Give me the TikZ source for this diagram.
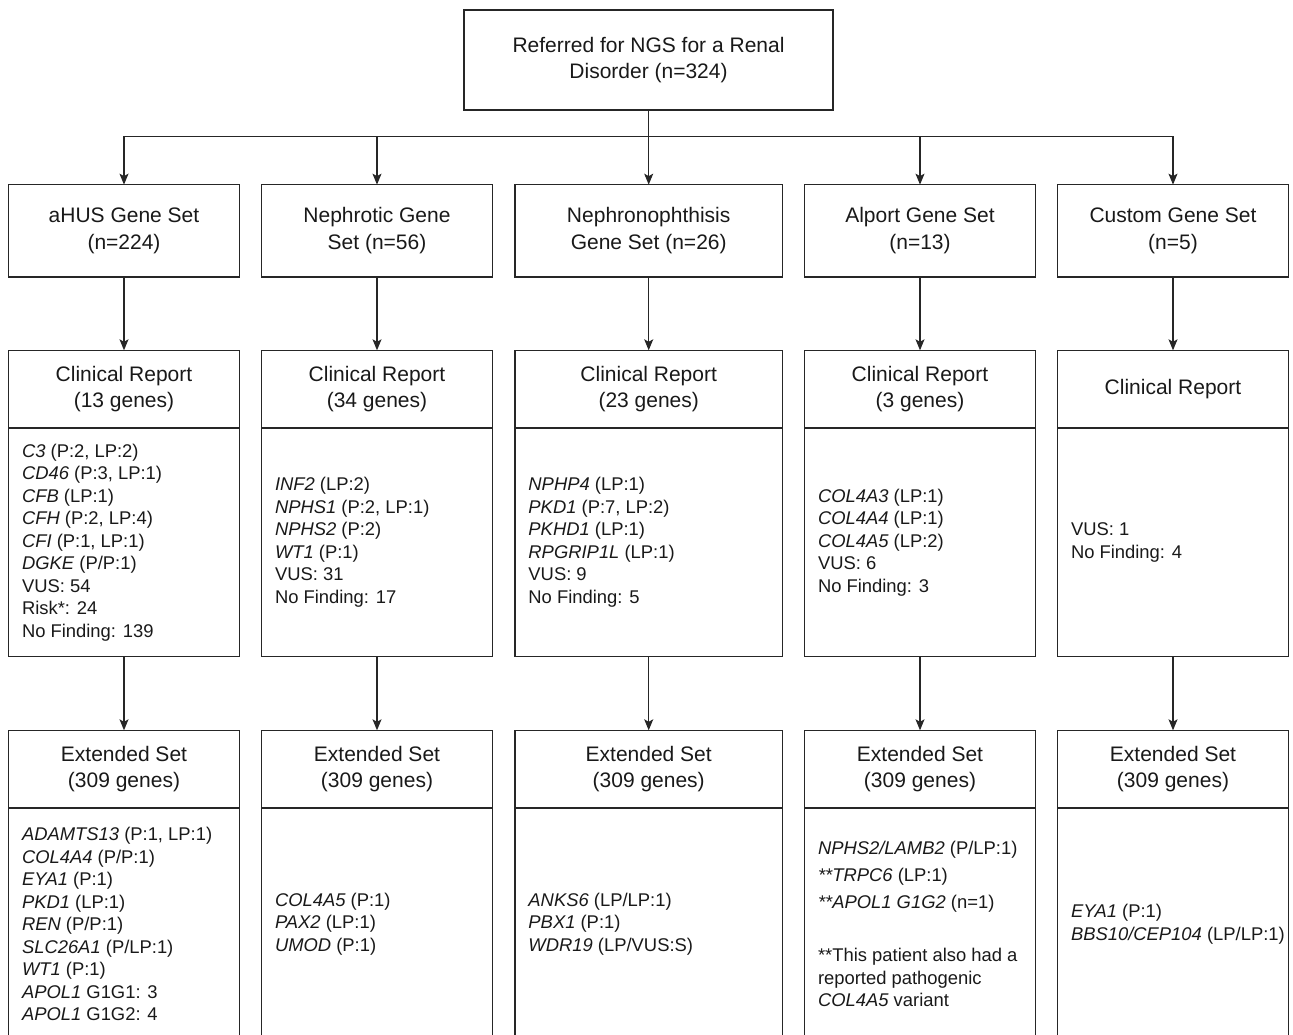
\documentclass[tikz,border=0pt]{standalone}
\usepackage{fontspec}
\setmainfont{Liberation Sans}
\usetikzlibrary{arrows.meta, positioning}
\newcommand{\gene}[1]{\textit{#1}}
\tikzset{
	flowchart/.is family,
	flowchart/.cd,
	box/.style = {
		draw = black!85,
		text = black!90,
		rectangle,
		line width = 1.1pt,
		inner sep = 0pt,
		outer sep = 0pt,
		align = center,
		font = \fontsize{21}{26.5}\selectfont,
	},
	list/.style = {
		text = black!90,
		inner sep = 0pt,
		outer sep = 0pt,
		anchor = west,
		align = left,
		font = \fontsize{18.4}{22.5}\selectfont,
	},
	line/.style = {
		draw = black!85,
		line width = 1.1pt,
	},
	arrow/.style = {
		draw = black!85,
		line width = 1.1pt,
		-{Stealth[length = 11pt, width = 9pt, inset = 2.5pt]},
	},
}

\begin{document}
\begin{tikzpicture}[x = 1pt, y = -1pt]
	\useasboundingbox (0, 0) rectangle (1293, 1034);
	\node[flowchart/box, minimum width = 369, minimum height = 100] (referred) at (648.5, 60) {Referred for NGS for a Renal\\Disorder (n=324)};
	\coordinate (bus) at (648.5, 136.5);
	\draw[flowchart/line] (referred) -- (bus);
	\foreach \i/\xc/\w/\setlabel/\clinlabel in {
		1/124/231/{aHUS Gene Set\\(n=224)}/{Clinical Report\\(13 genes)},
		2/377/231/{Nephrotic Gene\\Set (n=56)}/{Clinical Report\\(34 genes)},
		3/648.7/267.5/{Nephronophthisis\\Gene Set (n=26)}/{Clinical Report\\(23 genes)},
		4/920/231/{Alport Gene Set\\(n=13)}/{Clinical Report\\(3 genes)},
		5/1173/231/{Custom Gene Set\\(n=5)}/{Clinical Report}}{
		\node[flowchart/box, minimum width = \w, minimum height = 92.3] (set-\i) at (\xc, 230.8) {\setlabel};
		\node[flowchart/box, minimum width = \w, minimum height = 77.7, anchor = north] (clin-\i) at (\xc, 350.3) {\clinlabel};
		\node[flowchart/box, minimum width = \w, minimum height = 228.7, below = 0pt of clin-\i] (clinbody-\i) {};
		\node[flowchart/box, minimum width = \w, minimum height = 77.7, anchor = north] (ext-\i) at (\xc, 730.3) {Extended Set\\(309 genes)};
		\node[flowchart/box, minimum width = \w, minimum height = 232, below = 0pt of ext-\i] (extbody-\i) {};
		\draw[flowchart/arrow] (bus -| set-\i.north) -- (set-\i.north);
		\draw[flowchart/arrow] (set-\i.south) -- (clin-\i.north);
		\draw[flowchart/arrow] (clinbody-\i.south) -- (ext-\i.north);
	}
	\draw[flowchart/line, line cap = rect] (bus -| set-1.north) -- (bus -| set-5.north);
	% clinical report findings
	\node[flowchart/list] (clinlist-1) at ([xshift = 13.5pt] clinbody-1.west) {\gene{C3} (P:2, LP:2)\\\gene{CD46} (P:3, LP:1)\\\gene{CFB} (LP:1)\\\gene{CFH} (P:2, LP:4)\\\gene{CFI} (P:1, LP:1)\\\gene{DGKE} (P/P:1)\\VUS: 54\\Risk*: 24\\No Finding: 139};
	\node[flowchart/list] (clinlist-2) at ([xshift = 13.5pt] clinbody-2.west) {\gene{INF2} (LP:2)\\\gene{NPHS1} (P:2, LP:1)\\\gene{NPHS2} (P:2)\\\gene{WT1} (P:1)\\VUS: 31\\No Finding: 17};
	\node[flowchart/list] (clinlist-3) at ([xshift = 13.5pt] clinbody-3.west) {\gene{NPHP4} (LP:1)\\\gene{PKD1} (P:7, LP:2)\\\gene{PKHD1} (LP:1)\\\gene{RPGRIP1L} (LP:1)\\VUS: 9\\No Finding: 5};
	\node[flowchart/list] (clinlist-4) at ([xshift = 13.5pt] clinbody-4.west) {\gene{COL4A3} (LP:1)\\\gene{COL4A4} (LP:1)\\\gene{COL4A5} (LP:2)\\VUS: 6\\No Finding: 3};
	\node[flowchart/list] (clinlist-5) at ([xshift = 13.5pt] clinbody-5.west) {VUS: 1\\No Finding: 4};
	% extended set findings
	\node[flowchart/list] (extlist-1) at ([xshift = 13.5pt] extbody-1.west) {\gene{ADAMTS13} (P:1, LP:1)\\\gene{COL4A4} (P/P:1)\\\gene{EYA1} (P:1)\\\gene{PKD1} (LP:1)\\\gene{REN} (P/P:1)\\\gene{SLC26A1} (P/LP:1)\\\gene{WT1} (P:1)\\\gene{APOL1} G1G1: 3\\\gene{APOL1} G1G2: 4};
	\node[flowchart/list] (extlist-2) at ([xshift = 13.5pt] extbody-2.west) {\gene{COL4A5} (P:1)\\\gene{PAX2} (LP:1)\\\gene{UMOD} (P:1)};
	\node[flowchart/list] (extlist-3) at ([xshift = 13.5pt] extbody-3.west) {\gene{ANKS6} (LP/LP:1)\\\gene{PBX1} (P:1)\\\gene{WDR19} (LP/VUS:S)};
	\node[flowchart/list] (extlist-4) at ([xshift = 13.5pt] extbody-4.west) {\gene{NPHS2/LAMB2} (P/LP:1)\\[4.5pt]\gene{**TRPC6} (LP:1)\\[4.5pt]\gene{**APOL1 G1G2} (n=1)\\[30.5pt]**This patient also had a\\reported pathogenic\\\gene{COL4A5} variant};
	\node[flowchart/list] (extlist-5) at ([xshift = 13.5pt] extbody-5.west) {\gene{EYA1} (P:1)\\\gene{BBS10/CEP104} (LP/LP:1)};
\end{tikzpicture}
\end{document}
